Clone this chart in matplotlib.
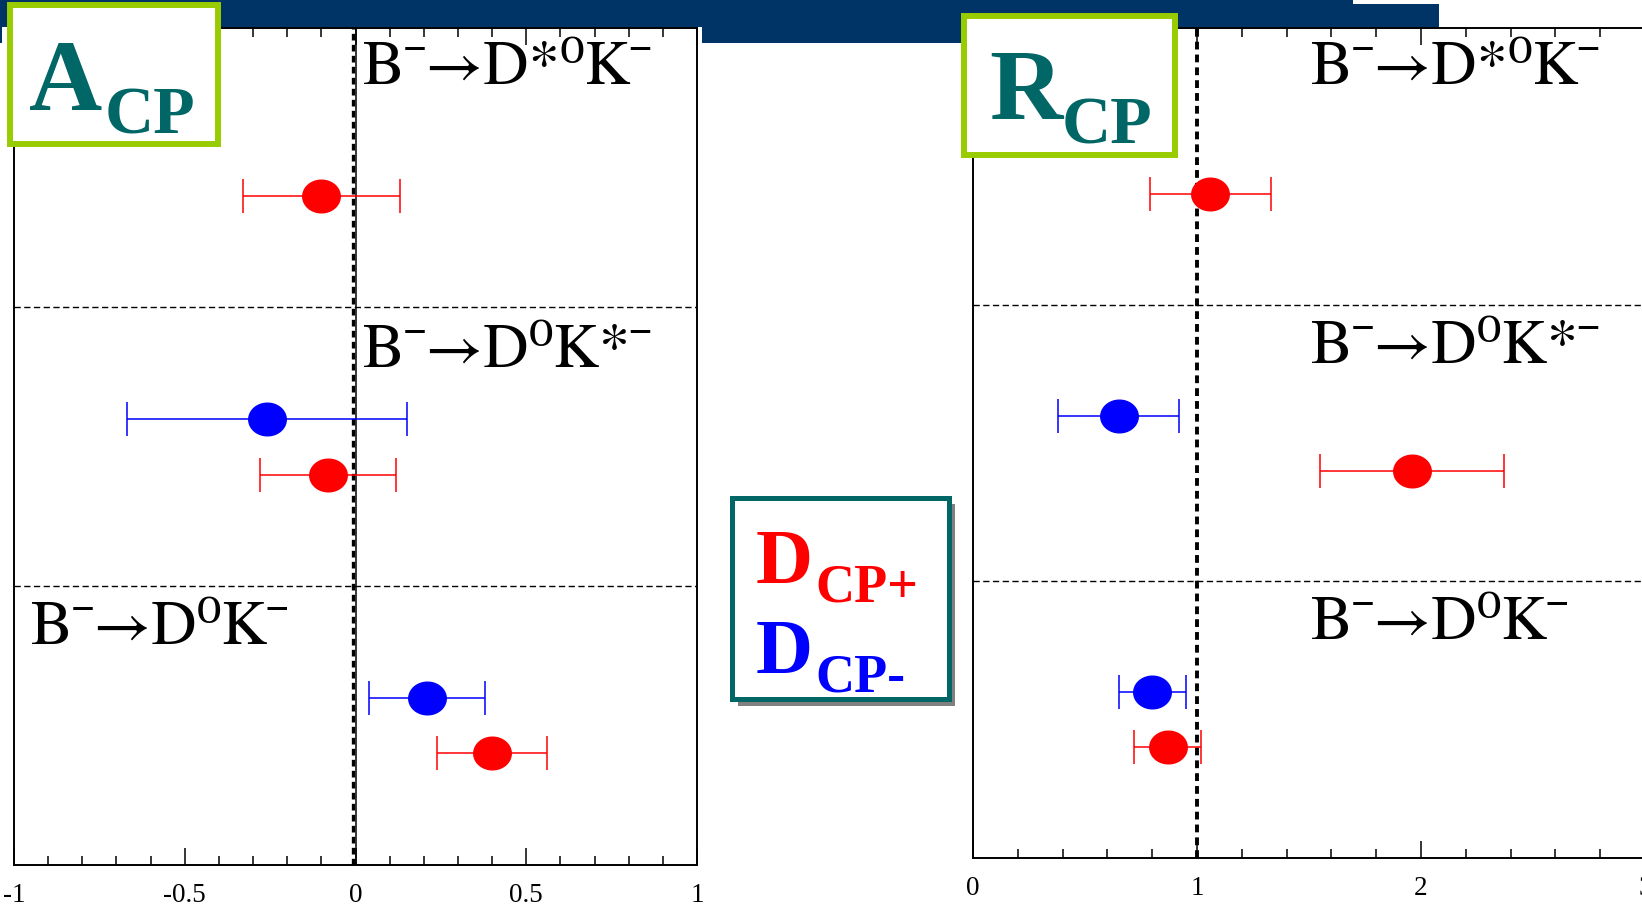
import matplotlib
matplotlib.use('Agg')
import matplotlib.pyplot as plt
from matplotlib.patches import Rectangle
from matplotlib.ticker import MultipleLocator, FixedLocator
import matplotlib.transforms as mtransforms
import numpy as np

plt.rcParams['axes.unicode_minus'] = False
SERIF = ['Liberation Serif', 'STIXGeneral', 'DejaVu Serif']
STIX = ['STIXGeneral', 'Liberation Serif', 'DejaVu Serif']

# ---------------- data ----------------
modes = ['Bˉ→D*⁰Kˉ', 'Bˉ→D⁰K*ˉ', 'Bˉ→D⁰Kˉ']
acp_plus = [-0.10, -0.08, 0.40]
acp_plus_err = [0.23, 0.20, 0.16]
acp_minus = [np.nan, -0.26, 0.21]
acp_minus_err = [np.nan, 0.41, 0.17]
rcp_plus = [1.06, 1.96, 0.87]
rcp_plus_err = [0.27, 0.41, 0.15]
rcp_minus = [np.nan, 0.65, 0.80]
rcp_minus_err = [np.nan, 0.27, 0.15]
acp_ticks = [-1, -0.5, 0, 0.5, 1]
acp_ticklabels = ['-1', '-0.5', '0', '0.5', '1']
rcp_ticks = [0, 1, 2, 3]
rcp_ticklabels = ['0', '1', '2', '3']

W, H = 1642, 913
fig = plt.figure(figsize=(W / 100, H / 100), dpi=100)
fig.patch.set_facecolor('white')

def fx(x):
    return x / W

def fy(y):
    return 1 - y / H

def rect(x0, y0, x1, y1, **kw):
    r = Rectangle((fx(x0), fy(y1)), fx(x1) - fx(x0), fy(y0) - fy(y1),
                  transform=fig.transFigure, **kw)
    fig.patches.append(r)
    return r

t = np.linspace(0, 2 * np.pi, 80)
ELL = np.column_stack([np.cos(t), 0.87 * np.sin(t)])

RED = '#FF0000'
BLUE = '#0000FF'

def style_axes(ax, xlim, ticks, labels, minor):
    ax.set_xlim(*xlim)
    ax.set_ylim(3, 0)
    ax.set_yticks([])
    ax.xaxis.set_major_locator(FixedLocator(ticks))
    ax.xaxis.set_minor_locator(MultipleLocator(minor))
    ax.set_xticklabels(labels)
    ax.tick_params(axis='x', which='both', direction='in', top=True, bottom=True,
                   width=1.1, pad=13, colors='black', labelsize=19.5,
                   labelfontfamily=SERIF)
    ax.tick_params(axis='x', which='major', length=12)
    ax.tick_params(axis='x', which='minor', length=6.5)
    for s in ax.spines.values():
        s.set_linewidth(1.4)
    for yv in (1, 2):
        ax.axhline(yv, color='black', lw=1.0, dashes=(4.5, 2.5), zorder=1)

def draw_points(ax, plus, plus_err, minus, minus_err):
    for i in range(len(plus)):
        for val, err, off, c in ((plus[i], plus_err[i], 0.6, RED),
                                 (minus[i], minus_err[i], 0.4, BLUE)):
            if np.isnan(val):
                continue
            ax.errorbar([val], [i + off], xerr=[err], fmt='none', ecolor=c,
                        elinewidth=1.1, capsize=12, capthick=1.1, zorder=3)
            ax.plot([val], [i + off], ls='none', marker=ELL, ms=27, color=c,
                    mec=c, zorder=4)

# ---------------- left panel (A_CP) ----------------
ax1 = fig.add_axes([fx(14), fy(865), fx(697) - fx(14), fy(28.5) - fy(865)])
style_axes(ax1, (-1, 1), acp_ticks, acp_ticklabels, 0.1)
ax1.plot([0, 0], [0, 1], transform=ax1.get_xaxis_transform(), color='black',
         lw=1.1, zorder=2)
off = mtransforms.ScaledTranslation(-3 / 100, 0, fig.dpi_scale_trans)
ax1.plot([0, 0], [0, 1], transform=ax1.get_xaxis_transform() + off, color='black',
         lw=2.4, ls=(0, (2, 1.3)), zorder=2)
draw_points(ax1, acp_plus, acp_plus_err, acp_minus, acp_minus_err)

# ---------------- right panel (R_CP) ----------------
ax2 = fig.add_axes([fx(973), fy(858), fx(1645) - fx(973), fy(28.5) - fy(858)])
style_axes(ax2, (0, 3), rcp_ticks, rcp_ticklabels, 0.2)
ax2.plot([1, 1], [0, 1], transform=ax2.get_xaxis_transform(), color='black',
         lw=2.8, ls=(0, (2, 1.3)), zorder=2)
draw_points(ax2, rcp_plus, rcp_plus_err, rcp_minus, rcp_minus_err)

# ---------------- decay mode labels ----------------
LBL = 45
for (x, y, s) in ((363, 84, modes[0]), (363, 367, modes[1]), (31, 644, modes[2]),
                  (1311, 84, modes[0]), (1311, 363, modes[1]), (1311, 639, modes[2])):
    fig.text(fx(x), fy(y), s, family=STIX, fontsize=LBL, va='baseline')

# ---------------- top banner ----------------
NAVY = '#003366'
rect(0, 0, 1353, 4, facecolor=NAVY, edgecolor='none', zorder=4)
rect(0, 4, 1439, 27.5, facecolor=NAVY, edgecolor='none', zorder=4)
rect(702, 27, 961, 43, facecolor=NAVY, edgecolor='none', zorder=4)
rect(0, 27, 2, 43, facecolor=NAVY, edgecolor='none', zorder=4)

# ---------------- panel title boxes ----------------
GREEN = '#99CC00'
TEAL = '#006666'
rect(10, 5, 218, 144, facecolor='white', edgecolor=GREEN, lw=4.3, zorder=5)
rect(964, 16, 1175, 155, facecolor='white', edgecolor=GREEN, lw=4.3, zorder=5)
fig.text(fx(29), fy(110), 'A', family=SERIF, fontsize=73, fontweight='bold',
         color=TEAL, va='baseline', zorder=6)
fig.text(fx(105), fy(133), 'CP', family=SERIF, fontsize=49, fontweight='bold',
         color=TEAL, va='baseline', zorder=6)
fig.text(fx(989), fy(119), 'R', family=SERIF, fontsize=73, fontweight='bold',
         color=TEAL, va='baseline', zorder=6)
fig.text(fx(1062), fy(144), 'CP', family=SERIF, fontsize=49, fontweight='bold',
         color=TEAL, va='baseline', zorder=6)

# ---------------- legend box ----------------
rect(737.5, 504.5, 954.5, 705.5, facecolor='#808080', edgecolor='none', zorder=5)
rect(731.5, 497.5, 948.5, 698.5, facecolor='white', edgecolor=TEAL, lw=3.6, zorder=5)
fig.text(fx(756), fy(583), 'D', family=SERIF, fontsize=57, fontweight='bold',
         color=RED, va='baseline', zorder=6)
fig.text(fx(815), fy(601), 'CP+', family=SERIF, fontsize=39, fontweight='bold',
         color=RED, va='baseline', zorder=6)
fig.text(fx(756), fy(673), 'D', family=SERIF, fontsize=57, fontweight='bold',
         color=BLUE, va='baseline', zorder=6)
fig.text(fx(815), fy(691), 'CP-', family=SERIF, fontsize=39, fontweight='bold',
         color=BLUE, va='baseline', zorder=6)

fig.savefig('out.png', dpi=100, facecolor='white')
